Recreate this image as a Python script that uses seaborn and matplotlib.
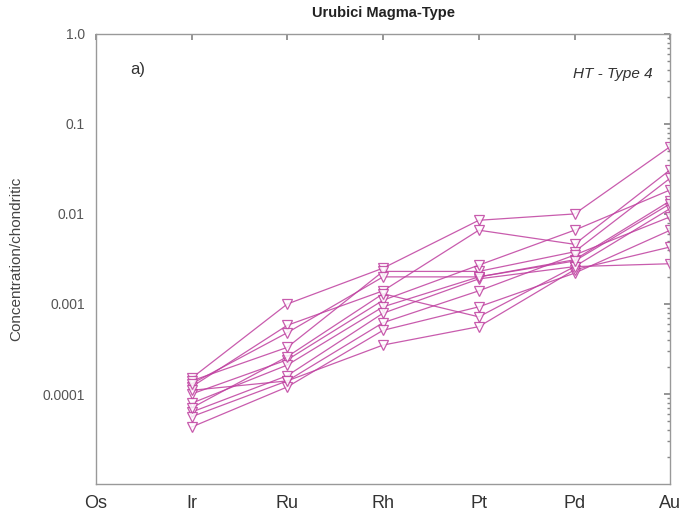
import matplotlib
matplotlib.use("Agg")
import matplotlib.pyplot as plt
import matplotlib.ticker as mticker
import numpy as np
import pandas as pd
import seaborn as sns

categories = ["Os", "Ir", "Ru", "Rh", "Pt", "Pd", "Au"]
elements = ["Ir", "Ru", "Rh", "Pt", "Pd", "Au"]

s1 = [1.5e-4, 1.0e-3, 2.5e-3, 8.5e-3, 1.0e-2, 5.6e-2]
s2 = [1.2e-4, 5.8e-4, 1.4e-3, 6.6e-3, 4.6e-3, 3.1e-2]
s3 = [1.4e-4, 3.3e-4, 2.3e-3, 2.3e-3, 3.8e-3, 2.5e-2]
s4 = [1.0e-4, 2.4e-4, 1.1e-3, 2.7e-3, 6.6e-3, 1.85e-2]
s5 = [7.9e-5, 2.1e-4, 9.3e-4, 2.0e-3, 3.1e-3, 1.4e-2]
s6 = [6.3e-5, 1.6e-4, 7.9e-4, 1.9e-3, 2.6e-3, 1.15e-2]
s7 = [5.6e-5, 1.4e-4, 6.2e-4, 1.4e-3, 3.5e-3, 9.3e-3]
s8 = [4.3e-5, 1.2e-4, 5.1e-4, 9.3e-4, 2.2e-3, 6.6e-3]
s9 = [1.1e-4, 1.4e-4, 3.5e-4, 5.6e-4, 2.4e-3, 4.3e-3]
s10 = [7.0e-5, 2.6e-4, 1.3e-3, 7.2e-4, 2.6e-3, 2.8e-3]
s11 = [1.3e-4, 4.8e-4, 2.0e-3, 2.0e-3, 3.0e-3, 1.3e-2]

series = {"s1": s1, "s2": s2, "s3": s3, "s4": s4, "s5": s5, "s6": s6,
          "s7": s7, "s8": s8, "s9": s9, "s10": s10, "s11": s11}

rows = []
for name, vals in series.items():
    for el, v in zip(elements, vals):
        rows.append({"sample": name, "element": el,
                     "pos": categories.index(el), "value": v})
df = pd.DataFrame(rows)

sns.set_theme(style="white")
plt.rcParams["font.family"] = ["Liberation Sans", "DejaVu Sans"]

fig = plt.figure(figsize=(6.84, 5.2), dpi=100)
ax = fig.add_axes([0.140, 0.069, 0.840, 0.866])

line_color = "#bf3f9f"
sns.lineplot(data=df, x="pos", y="value", hue="sample",
             palette=[line_color] * len(series), estimator=None,
             sort=False, marker="v", markersize=7, markerfacecolor="white",
             markeredgecolor=line_color, markeredgewidth=0.9,
             linewidth=0.9, alpha=0.85, legend=False, ax=ax)

ax.set_yscale("log")
ax.set_ylim(1e-5, 1.0)
ax.set_xlim(0, 6)
ax.set_xticks(range(len(categories)))
ax.set_xticklabels(categories, fontsize=13, color="#333333")
ax.set_yticks([1e-4, 1e-3, 1e-2, 1e-1, 1.0])
ax.set_yticklabels(["0.0001", "0.001", "0.01", "0.1", "1.0"],
                   fontsize=10, color="#555555")
ax.yaxis.set_minor_locator(mticker.LogLocator(base=10, subs=np.arange(2, 10)))
ax.yaxis.set_minor_formatter(mticker.NullFormatter())
ax.tick_params(axis="both", which="both", direction="in",
               top=True, right=True, color="#888888")
ax.tick_params(axis="both", which="major", length=4, pad=8)
ax.tick_params(axis="both", which="minor", length=2)
ax.set_xlabel("")
ax.set_ylabel("Concentration/chondritic", fontsize=11, color="#444444",
              labelpad=14)
for sp in ax.spines.values():
    sp.set_color("#999999")
    sp.set_linewidth(1.0)

ax.set_title("Urubici Magma-Type", fontsize=10.5, fontweight="bold",
             color="#222222", pad=12)
ax.text(0.06, 0.92, "a)", transform=ax.transAxes, fontsize=12,
        color="#333333", va="center", ha="left")
ax.text(0.97, 0.91, "HT - Type 4", transform=ax.transAxes, fontsize=11,
        style="italic", color="#333333", va="center", ha="right")

fig.savefig("out.png", dpi=100)
